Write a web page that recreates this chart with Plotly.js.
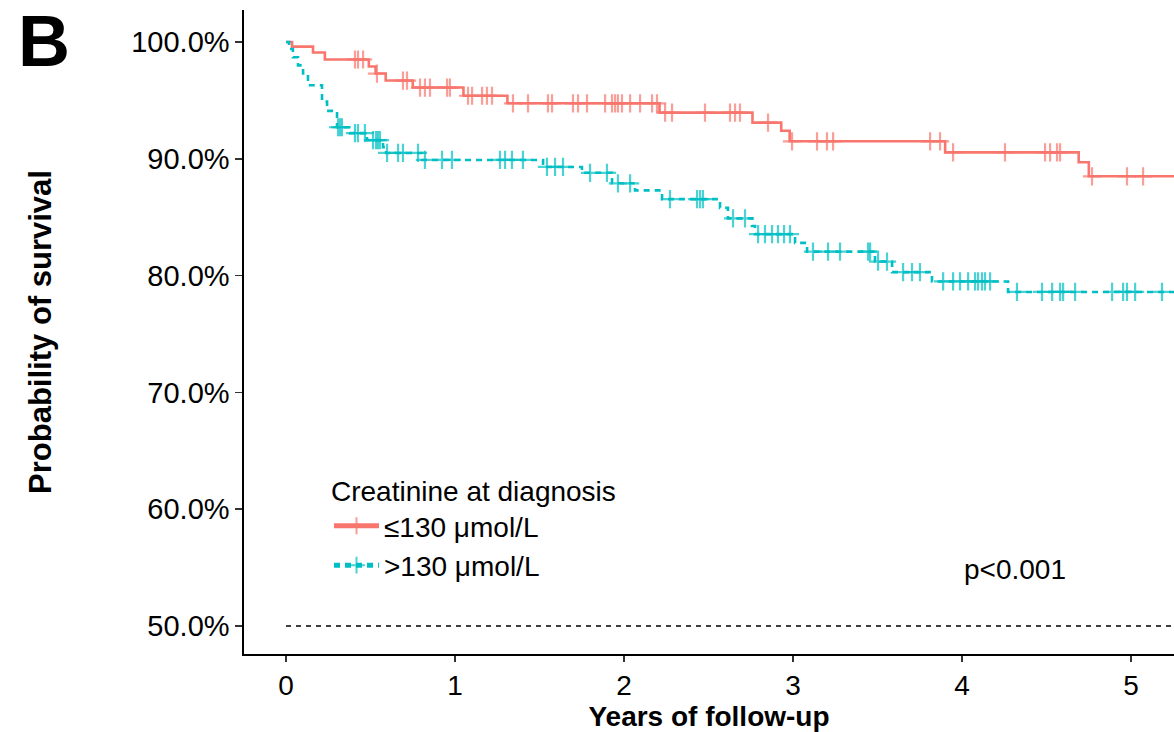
<!DOCTYPE html>
<html>
<head>
<meta charset="utf-8">
<script src="https://cdn.plot.ly/plotly-3.0.1.min.js"></script>
<style>html,body{margin:0;padding:0;background:#fff;}#chart{width:1174px;height:732px;}</style>
</head>
<body>
<div id="chart"></div>
<script>
// ---- Data ----
const groupNames = ["≤130 μmol/L", ">130 μmol/L"];
const legendTitle = "Creatinine at diagnosis";
const pValueText = "p<0.001";

// Group 1: creatinine ≤130 µmol/L — event times (years) and survival (%) after each step
const lowEventTimes = [0, 0.036, 0.16, 0.23, 0.49, 0.53, 0.59, 0.75, 1.05, 1.31, 2.21, 2.76, 2.93, 2.98, 3.90, 4.69, 4.75];
const lowEventSurv  = [100, 99.6, 99.1, 98.5, 97.9, 97.3, 96.7, 96.1, 95.4, 94.75, 93.95, 93.1, 92.4, 91.5, 90.55, 89.7, 88.5];
const lowCensorTimes = [0.408, 0.426, 0.456, 0.538, 0.692, 0.716, 0.793, 0.822, 0.852, 0.953, 0.970,
  1.077, 1.101, 1.160, 1.189, 1.219, 1.343, 1.432, 1.550, 1.574, 1.698, 1.728, 1.781, 1.888, 1.929,
  1.947, 1.964, 1.988, 2.036, 2.095, 2.166, 2.195, 2.243, 2.284, 2.479, 2.627, 2.657, 2.686, 2.852,
  2.994, 3.142, 3.201, 3.237, 3.811, 3.870, 3.947, 4.254, 4.491, 4.521, 4.562, 4.580, 4.769, 4.976, 5.071];

// Group 2: creatinine >130 µmol/L
const highEventTimes = [0, 0.018, 0.041, 0.071, 0.101, 0.130, 0.213, 0.243, 0.302, 0.379, 0.479, 0.574, 0.592,
  0.805, 1.521, 1.751, 1.929, 2.065, 2.225, 2.568, 2.615, 2.757, 2.775, 3.012, 3.083, 3.485, 3.586, 3.822, 4.272];
const highEventSurv  = [100, 99.4, 98.7, 98.0, 97.3, 96.3, 94.9, 94.1, 92.7, 92.2, 91.6, 91.0, 90.5,
  89.9, 89.3, 88.8, 87.9, 87.3, 86.55, 85.8, 84.9, 84.25, 83.55, 82.8, 82.05, 81.2, 80.3, 79.5, 78.6];
const highCensorTimes = [0.308, 0.320, 0.331, 0.408, 0.426, 0.467, 0.515, 0.533, 0.544, 0.556, 0.598,
  0.663, 0.692, 0.781, 0.822, 0.923, 0.982, 1.266, 1.296, 1.337, 1.402, 1.544, 1.592, 1.639, 1.799,
  1.899, 1.964, 2.036, 2.272, 2.432, 2.450, 2.467, 2.645, 2.716, 2.793, 2.834, 2.876, 2.911, 2.947,
  2.982, 3.118, 3.207, 3.278, 3.444, 3.456, 3.503, 3.556, 3.651, 3.704, 3.751, 3.888, 3.947, 3.988,
  4.036, 4.077, 4.095, 4.118, 4.136, 4.166, 4.325, 4.473, 4.533, 4.580, 4.598, 4.669, 4.888, 4.953,
  4.976, 5.024, 5.183];

// Last follow-up time of each curve (years)
const lastFollowUp = [5.4, 5.4];

const xTickVals = [0, 1, 2, 3, 4, 5];
const yTickVals = [50, 60, 70, 80, 90, 100];
const referenceSurvival = 50;

// ---- Build KM step traces ----
function buildCurve(evT, evS, cenT, endT) {
  const pts = [];
  evT.forEach((t, i) => pts.push({t: t, s: evS[i], c: false}));
  cenT.forEach(t => {
    let s = evS[0];
    for (let i = 0; i < evT.length; i++) { if (evT[i] <= t) s = evS[i]; }
    pts.push({t: t, s: s, c: true});
  });
  pts.push({t: endT, s: evS[evS.length - 1], c: false});
  pts.sort((a, b) => a.t - b.t || (a.c - b.c));
  return {
    x: pts.map(p => p.t),
    y: pts.map(p => p.s),
    size: pts.map(p => p.c ? 13 : 0)
  };
}

const FONT = "Liberation Sans, Arial, Helvetica, sans-serif";
const colors = ["#F8766D", "#00BFC4"];
const dashes = ["solid", "6px,5px"];
const series = [
  buildCurve(lowEventTimes, lowEventSurv, lowCensorTimes, lastFollowUp[0]),
  buildCurve(highEventTimes, highEventSurv, highCensorTimes, lastFollowUp[1])
];

const traces = series.map((c, i) => ({
  type: "scatter",
  mode: "lines+markers",
  name: groupNames[i],
  x: c.x, y: c.y,
  line: {shape: "hv", color: colors[i], width: 2.6, dash: dashes[i]},
  marker: {symbol: "cross-thin", size: c.size, color: colors[i],
           line: {color: colors[i], width: 2.2}},
  cliponaxis: true,
  hoverinfo: "x+y"
}));

const layout = {
  width: 1174, height: 732,
  margin: {l: 244, r: 0, t: 10, b: 78},
  paper_bgcolor: "#ffffff", plot_bgcolor: "#ffffff",
  font: {family: FONT, size: 28, color: "#000"},
  showlegend: true,
  legend: {
    x: 0.0914, y: 0.294, xanchor: "left", yanchor: "top",
    bgcolor: "rgba(0,0,0,0)", borderwidth: 0,
    font: {family: FONT, size: 28, color: "#000"},
    title: {text: legendTitle, font: {family: FONT, size: 28, color: "#000"}},
    itemsizing: "constant", itemwidth: 45, tracegroupgap: 0
  },
  xaxis: {
    range: [-0.2485, 5.254], tickvals: xTickVals, ticktext: xTickVals.map(String),
    showline: true, linecolor: "#000", linewidth: 1.6, mirror: false,
    ticks: "outside", ticklen: 6, tickwidth: 1.6, tickcolor: "#333",
    showgrid: false, zeroline: false,
    tickfont: {family: FONT, size: 28, color: "#000"},
    title: {text: "<b>Years of follow-up</b>", font: {family: FONT, size: 28, color: "#000"}, standoff: 7}
  },
  yaxis: {
    range: [47.6, 102.74], tickvals: yTickVals, ticktext: yTickVals.map(v => v.toFixed(1) + "%"),
    showline: true, linecolor: "#000", linewidth: 1.6,
    ticks: "outside", ticklen: 7, tickwidth: 1.6, tickcolor: "#333",
    showgrid: false, zeroline: false,
    tickfont: {family: FONT, size: 29, color: "#000"},
    title: {text: "<b>Probability of survival</b>", font: {family: FONT, size: 31, color: "#000"}, standoff: 70}
  },
  shapes: [{
    type: "line", xref: "x", yref: "y",
    x0: 0, x1: lastFollowUp[0], y0: referenceSurvival, y1: referenceSurvival,
    line: {color: "#000", width: 1.5, dash: "5px,5px"}
  }],
  annotations: [
    {text: "<b>B</b>", xref: "paper", yref: "paper", x: -0.245, y: 0.952,
     xanchor: "left", yanchor: "middle", showarrow: false,
     font: {family: FONT, size: 72, color: "#000"}},
    {text: pValueText, xref: "x", yref: "y", x: 4.0, y: 54.8,
     xanchor: "left", yanchor: "middle", showarrow: false,
     font: {family: FONT, size: 28, color: "#000"}}
  ]
};

Plotly.newPlot("chart", traces, layout, {displayModeBar: false, staticPlot: true});
</script>
</body>
</html>
